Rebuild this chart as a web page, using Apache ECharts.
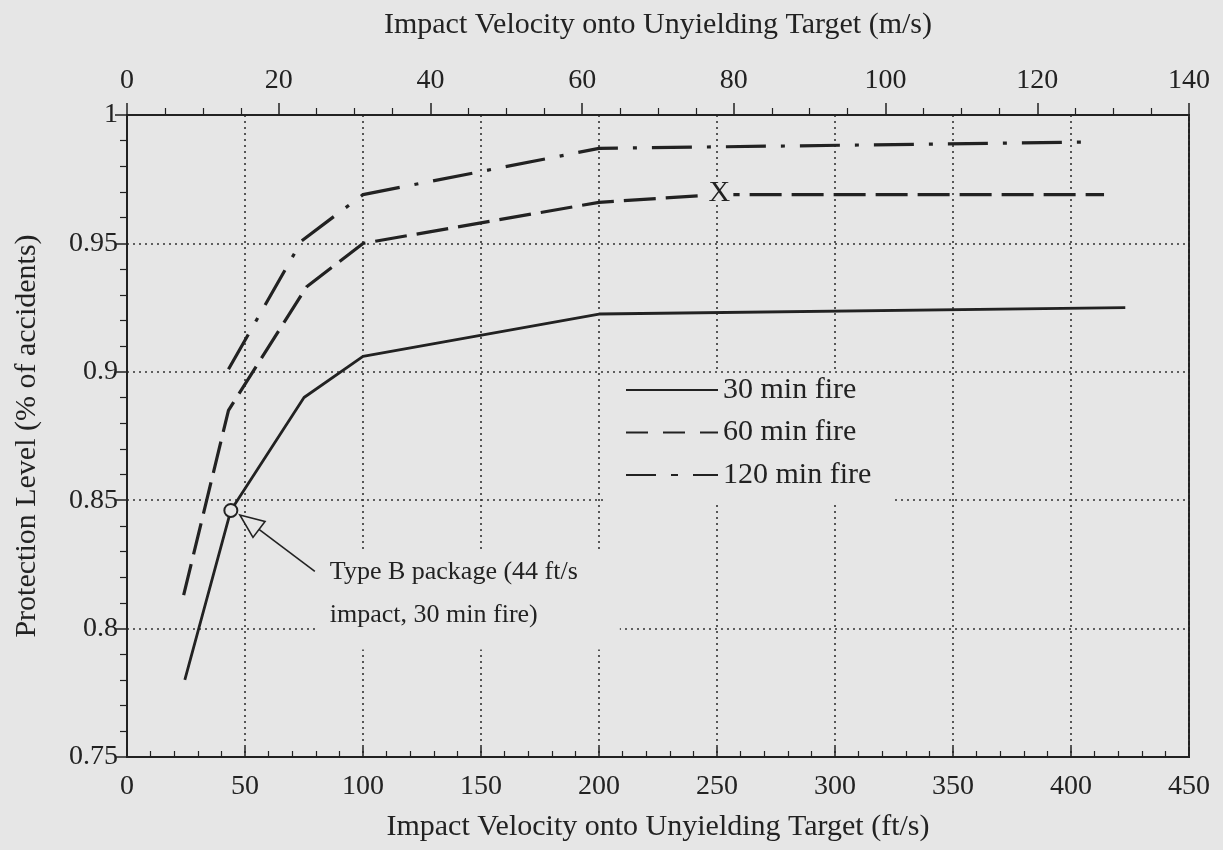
<!DOCTYPE html>
<html>
<head>
<meta charset="utf-8">
<script src="https://cdn.jsdelivr.net/npm/echarts@6/dist/echarts.min.js"></script>
<style>
  html, body { margin: 0; padding: 0; background: #e6e6e6; }
  #chart { width: 1223px; height: 850px; }
</style>
</head>
<body>
<div id="chart"></div>
<script>
// ---- data ----
const ftTicks = [0, 50, 100, 150, 200, 250, 300, 350, 400, 450];
const msTicks = [0, 20, 40, 60, 80, 100, 120, 140];
const levelTicks = [0.75, 0.8, 0.85, 0.9, 0.95, 1];
const seriesNames = ['30 min fire', '60 min fire', '120 min fire'];
const fire30 = [[24.5, 0.780], [44, 0.846], [75, 0.890], [100, 0.906], [200, 0.9225], [423, 0.925]];
const fire60 = [[24, 0.813], [43, 0.885], [76, 0.933], [100, 0.950], [200, 0.966], [250, 0.969], [414, 0.969]];
const fire120 = [[43, 0.901], [74, 0.951], [100, 0.969], [200, 0.987], [410, 0.9895]];
const typeBPoint = [[44, 0.846]];
const xMarkPoint = [251, 0.9700];
const annotationLines = ['Type B package (44 ft/s', 'impact, 30 min fire)'];
const bottomTitle = 'Impact Velocity onto Unyielding Target (ft/s)';
const topTitle = 'Impact Velocity onto Unyielding Target (m/s)';
const yTitle = 'Protection Level (% of accidents)';

// ---- styles ----
const paper = '#e6e6e6';
const ink = '#222222';
const serif = '"Liberation Serif", "DejaVu Serif", serif';

const chart = echarts.init(document.getElementById('chart'), null, { renderer: 'canvas' });

const gridDots = { show: true, lineStyle: { color: '#333333', width: 1.6, type: [2, 4] } };
const hiddenSymbol = { color: 'transparent', borderColor: 'transparent', borderWidth: 0, opacity: 0 };

const option = {
  backgroundColor: paper,
  animation: false,
  grid: { left: 127, right: 34, top: 115, bottom: 93, show: true, borderColor: ink, borderWidth: 2, backgroundColor: 'transparent' },
  legend: {
    orient: 'vertical',
    left: 603, top: 373,
    padding: [2, 22, 15, 22],
    itemWidth: 92, itemHeight: 28, itemGap: 12.5,
    backgroundColor: paper,
    itemStyle: hiddenSymbol,
    textStyle: { fontFamily: serif, fontSize: 30, color: ink, lineHeight: 28 },
    data: [
      { name: seriesNames[0], itemStyle: hiddenSymbol },
      { name: seriesNames[1], itemStyle: hiddenSymbol, lineStyle: { type: [22, 15] } },
      { name: seriesNames[2], itemStyle: hiddenSymbol, lineStyle: { type: [30, 15, 7, 15] } }
    ]
  },
  xAxis: [
    {
      type: 'value', position: 'bottom',
      min: ftTicks[0], max: ftTicks[ftTicks.length - 1], interval: ftTicks[1] - ftTicks[0],
      name: bottomTitle, nameLocation: 'middle', nameGap: 55,
      nameTextStyle: { fontFamily: serif, fontSize: 30, color: ink },
      axisLine: { show: true, lineStyle: { color: ink, width: 2 } },
      axisTick: { show: true, inside: true, length: 10, lineStyle: { color: ink, width: 1.5 } },
      minorTick: { show: true, splitNumber: 5, length: 6, lineStyle: { color: ink, width: 1.2 } },
      axisLabel: { fontFamily: serif, fontSize: 28, color: ink, margin: 16 },
      splitLine: gridDots
    },
    {
      type: 'value', position: 'top',
      min: msTicks[0], max: msTicks[msTicks.length - 1], interval: msTicks[1] - msTicks[0],
      name: topTitle, nameLocation: 'middle', nameGap: 75,
      nameTextStyle: { fontFamily: serif, fontSize: 30, color: ink },
      axisLine: { show: true, lineStyle: { color: ink, width: 2 } },
      axisTick: { show: true, inside: false, length: 12, lineStyle: { color: ink, width: 1.5 } },
      minorTick: { show: true, splitNumber: 4, length: 7, lineStyle: { color: ink, width: 1.2 } },
      axisLabel: { fontFamily: serif, fontSize: 28, color: ink, margin: 20 },
      splitLine: { show: false }
    }
  ],
  yAxis: {
    type: 'value',
    min: levelTicks[0], max: levelTicks[levelTicks.length - 1], interval: 0.05,
    name: yTitle, nameLocation: 'middle', nameGap: 85, nameRotate: 90,
    nameTextStyle: { fontFamily: serif, fontSize: 30, color: ink },
    axisLine: { show: true, lineStyle: { color: ink, width: 2 } },
    axisTick: { show: true, inside: false, length: 12, lineStyle: { color: ink, width: 1.5 } },
    minorTick: { show: true, splitNumber: 5, length: 7, lineStyle: { color: ink, width: 1.2 } },
    axisLabel: { fontFamily: serif, fontSize: 28, color: ink, margin: 9,
      formatter: v => String(+v.toFixed(2)) },
    splitLine: gridDots
  },
  series: [
    { name: seriesNames[0], type: 'line', data: fire30, symbol: 'none', z: 3,
      lineStyle: { color: ink, width: 2.8, type: 'solid' }, itemStyle: { color: ink } },
    { name: seriesNames[1], type: 'line', data: fire60, symbol: 'none', z: 3,
      lineStyle: { color: ink, width: 3.2, type: [32, 10] }, itemStyle: { color: ink } },
    { name: seriesNames[2], type: 'line', data: fire120, symbol: 'none', z: 3,
      lineStyle: { color: ink, width: 3.2, type: [40, 15, 4, 15] }, itemStyle: { color: ink } },
    { name: 'Type B', type: 'scatter', data: typeBPoint, symbol: 'circle', symbolSize: 13, z: 6,
      itemStyle: { color: paper, borderColor: ink, borderWidth: 2, opacity: 1 } }
  ]
};
chart.setOption(option);

// ---- annotation: arrow + text box anchored to the Type B point; "X" mark on the 60 min curve ----
const c = chart.convertToPixel({ xAxisIndex: 0, yAxisIndex: 0 }, typeBPoint[0]);
const xm = chart.convertToPixel({ xAxisIndex: 0, yAxisIndex: 0 }, xMarkPoint);
const tip = [c[0] + 9, c[1] + 4.5];
const tail = [c[0] + 84, c[1] + 61];
const dx = tip[0] - tail[0], dy = tip[1] - tail[1];
const len = Math.hypot(dx, dy);
const u = [dx / len, dy / len];
const n = [-u[1], u[0]];
const headL = 24, headW = 10;
const base = [tip[0] - u[0] * headL, tip[1] - u[1] * headL];
chart.setOption({
  graphic: [
    { type: 'rect', z: 10, silent: true,
      shape: { x: c[0] + 87, y: c[1] + 42, width: 302, height: 97 },
      style: { fill: paper } },
    { type: 'line', z: 11, silent: true,
      shape: { x1: tail[0], y1: tail[1], x2: base[0], y2: base[1] },
      style: { stroke: ink, lineWidth: 1.6 } },
    { type: 'polygon', z: 11, silent: true,
      shape: { points: [tip, [base[0] + n[0] * headW, base[1] + n[1] * headW], [base[0] - n[0] * headW, base[1] - n[1] * headW]] },
      style: { fill: paper, stroke: ink, lineWidth: 1.6 } },
    { type: 'text', z: 12, silent: true, x: c[0] + 99, y: c[1] + 61.5,
      style: { text: annotationLines[0], font: '26px ' + serif, fill: ink, verticalAlign: 'middle', align: 'left' } },
    { type: 'text', z: 12, silent: true, x: c[0] + 99, y: c[1] + 104.5,
      style: { text: annotationLines[1], font: '26px ' + serif, fill: ink, verticalAlign: 'middle', align: 'left' } },
    { type: 'rect', z: 10, silent: true,
      shape: { x: xm[0] - 14, y: xm[1] - 12, width: 28, height: 24 },
      style: { fill: paper } },
    { type: 'text', z: 12, silent: true, x: xm[0], y: xm[1] + 1,
      style: { text: 'X', font: '30px ' + serif, fill: ink, verticalAlign: 'middle', align: 'center' } }
  ]
});
</script>
</body>
</html>
